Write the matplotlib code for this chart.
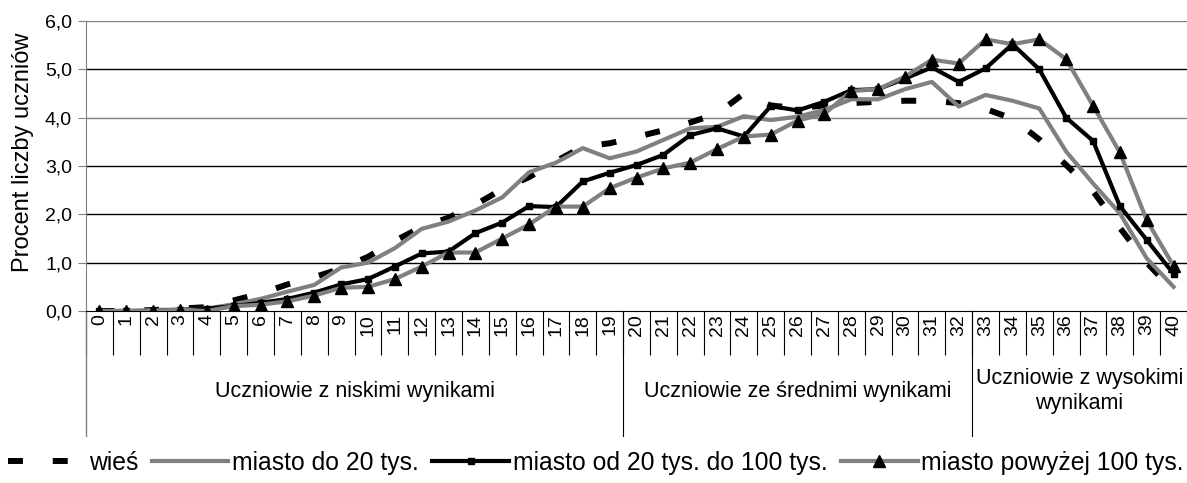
import matplotlib
matplotlib.use("Agg")
import matplotlib.pyplot as plt
import matplotlib.transforms as mtransforms
import numpy as np

plt.rcParams['font.family'] = ['Liberation Sans', 'DejaVu Sans']

# wynik (0-40 punktów)
scores = list(range(41))

# procent liczby uczniów wg miejscowości
wies = [0.0, 0.0, 0.02, 0.05, 0.08, 0.22, 0.36, 0.55, 0.70, 0.88,
        1.12, 1.45, 1.74, 1.93, 2.20, 2.52, 2.77, 3.10, 3.40, 3.47,
        3.60, 3.74, 3.90, 4.08, 4.50, 4.25, 4.20, 4.25, 4.30, 4.33,
        4.35, 4.35, 4.30, 4.18, 3.98, 3.55, 3.02, 2.48, 1.72, 1.00,
        0.42]
do20 = [0.0, 0.0, 0.02, 0.03, 0.05, 0.14, 0.25, 0.40, 0.54, 0.90,
        1.00, 1.30, 1.70, 1.85, 2.08, 2.35, 2.87, 3.07, 3.37, 3.16,
        3.30, 3.54, 3.78, 3.81, 4.03, 3.95, 4.02, 4.16, 4.38, 4.38,
        4.59, 4.74, 4.23, 4.47, 4.35, 4.19, 3.30, 2.64, 2.02, 1.09,
        0.50]
od20do100 = [0.0, 0.0, 0.0, 0.02, 0.05, 0.10, 0.17, 0.25, 0.38, 0.55,
             0.66, 0.92, 1.19, 1.23, 1.61, 1.83, 2.17, 2.15, 2.68, 2.86,
             3.02, 3.23, 3.64, 3.78, 3.61, 4.24, 4.15, 4.33, 4.57, 4.59,
             4.81, 5.04, 4.74, 5.02, 5.52, 5.00, 4.00, 3.52, 2.17, 1.47,
             0.77]
pow100 = [0.0, 0.0, 0.0, 0.03, 0.0, 0.10, 0.13, 0.20, 0.32, 0.48,
          0.50, 0.66, 0.92, 1.21, 1.21, 1.50, 1.79, 2.16, 2.16, 2.54,
          2.76, 2.95, 3.07, 3.35, 3.61, 3.65, 3.94, 4.08, 4.55, 4.59,
          4.85, 5.20, 5.12, 5.62, 5.52, 5.62, 5.21, 4.25, 3.28, 1.88,
          0.93]

series_labels = ["wieś", "miasto do 20 tys.", "miasto od 20 tys. do 100 tys.",
                 "miasto powyżej 100 tys."]
group_labels = ["Uczniowie z niskimi wynikami", "Uczniowie ze średnimi wynikami",
                "Uczniowie z wysokimi\nwynikami"]
group_ranges = [(0, 19), (20, 32), (33, 40)]
y_ticks = [0, 1, 2, 3, 4, 5, 6]
y_ticklabels = ["0,0", "1,0", "2,0", "3,0", "4,0", "5,0", "6,0"]

GRAY = "#808080"
W, H = 1187, 483

fig = plt.figure(figsize=(W / 100, H / 100), dpi=100)
ax = fig.add_axes([86 / W, 1 - 311 / H, 1101 / W, 290 / H])

# siatka
for v in y_ticks[1:]:
    ax.axhline(v, color=GRAY if v in (4, 6) else "black", lw=1.0, zorder=1)

ax.plot(scores, wies, color="black", lw=4.3, dashes=(2.5, 5),
        dash_capstyle="butt", label=series_labels[0], zorder=3)
ax.plot(scores, do20, color=GRAY, lw=3, solid_joinstyle="round",
        label=series_labels[1], zorder=4)
ax.plot(scores, od20do100, color="black", lw=3, solid_joinstyle="round",
        marker="s", ms=4, mfc="black", mec="black",
        label=series_labels[2], zorder=5)
ax.plot(scores, pow100, color=GRAY, lw=3, solid_joinstyle="round",
        marker="^", ms=8, mfc="black", mec="black",
        label=series_labels[3], zorder=6)

ax.set_xlim(-0.5, 40.5)
ax.set_ylim(0, 6)
ax.set_yticks(y_ticks)
ax.set_yticklabels(y_ticklabels, fontsize=14)
ax.tick_params(axis="y", length=6, color=GRAY, pad=4)
ax.set_ylabel("Procent liczby uczniów", fontsize=17)
ax.yaxis.set_label_coords(-52 / 1101, 159 / 290)

ax.set_xticks(scores)
ax.set_xticklabels([str(s) for s in scores], rotation=90, fontsize=14,
                   va="top", ha="center")
ax.set_xticks(np.arange(-0.5, 41, 1), minor=True)
ax.tick_params(axis="x", which="major", length=0, pad=2)
ax.tick_params(axis="x", which="minor", length=31.7, width=0.8, color="black")

for s in ("top", "right"):
    ax.spines[s].set_visible(False)
ax.spines["left"].set_color(GRAY)
ax.spines["bottom"].set_color("black")

trans = mtransforms.blended_transform_factory(ax.transData, ax.transAxes)
low = -125 / 290
# przedłużenie osi Y i separatory grup
ax.plot([0, 0], [0, low], transform=ax.transAxes, color=GRAY, lw=1,
        clip_on=False)
for (a, b), lab in zip(group_ranges, group_labels):
    if a > 0:
        ax.plot([a - 0.5, a - 0.5], [0, low], transform=trans, color="black",
                lw=0.8, clip_on=False)
    ax.text((a + b) / 2, -80 / 290, lab, transform=trans, ha="center",
            va="center", fontsize=15.5, linespacing=1.3)

fig.legend(loc="center", bbox_to_anchor=(596 / W, 1 - 463 / H), ncol=4,
           frameon=False, fontsize=17.8, handlelength=3.1, handletextpad=0.15,
           columnspacing=0.55, borderpad=0.1, borderaxespad=0)

fig.savefig("out.png", dpi=100)
